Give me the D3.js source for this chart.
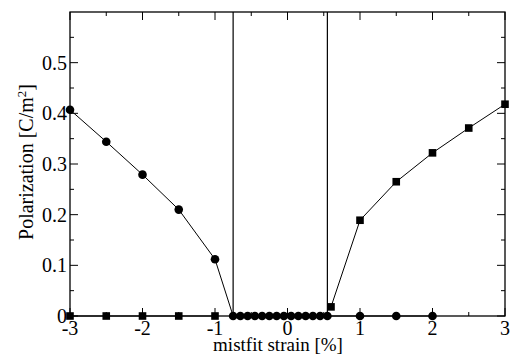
<!DOCTYPE html>
<html><head><meta charset="utf-8">
<script src="https://cdn.jsdelivr.net/npm/d3@7"></script>
<style>body{margin:0;background:#fff}svg{display:block}</style>
</head><body>
<svg id="c" width="515" height="358"></svg>
<script>
// circle series (polarization, C/m^2)
const circleX = [-3, -2.5, -2, -1.5, -1, -0.75, -0.65, -0.55, -0.45, -0.35, -0.25, -0.15, -0.05, 0.05, 0.15, 0.25, 0.35, 0.45, 0.55, 1, 1.5, 2];
const circleY = [0.407, 0.344, 0.279, 0.210, 0.112, 0, 0, 0, 0, 0, 0, 0, 0, 0, 0, 0, 0, 0, 0, 0, 0, 0];
// square series
const squareX = [-3, -2.5, -2, -1.5, -1, 0.6, 1, 1.5, 2, 2.5, 3];
const squareY = [0, 0, 0, 0, 0, 0.018, 0.189, 0.265, 0.322, 0.371, 0.418];
// phase boundaries
const boundaries = [-0.75, 0.55];
const xTicks = [-3, -2, -1, 0, 1, 2, 3];
const xMinor = [-2.5, -1.5, -0.5, 0.5, 1.5, 2.5];
const yTicks = [0, 0.1, 0.2, 0.3, 0.4, 0.5];
const yMinor = [0.05, 0.15, 0.25, 0.35, 0.45, 0.55];

const L = 70, R = 505, T = 12, B = 316;
const x = d3.scaleLinear().domain([-3, 3]).range([L, R]);
const y = d3.scaleLinear().domain([0, 0.6]).range([B, T]);
const svg = d3.select("#c");
const FF = "'Liberation Serif'";

// ticks (inward on all four sides)
const tg = svg.append("g").attr("stroke", "#000").attr("stroke-width", 1);
xTicks.forEach(v => {
  tg.append("line").attr("x1", x(v)).attr("x2", x(v)).attr("y1", B).attr("y2", B - 8);
  tg.append("line").attr("x1", x(v)).attr("x2", x(v)).attr("y1", T).attr("y2", T + 8);
});
xMinor.forEach(v => {
  tg.append("line").attr("x1", x(v)).attr("x2", x(v)).attr("y1", B).attr("y2", B - 4);
  tg.append("line").attr("x1", x(v)).attr("x2", x(v)).attr("y1", T).attr("y2", T + 4);
});
yTicks.forEach(v => {
  tg.append("line").attr("y1", y(v)).attr("y2", y(v)).attr("x1", L).attr("x2", L + 8);
  tg.append("line").attr("y1", y(v)).attr("y2", y(v)).attr("x1", R).attr("x2", R - 8);
});
yMinor.forEach(v => {
  tg.append("line").attr("y1", y(v)).attr("y2", y(v)).attr("x1", L).attr("x2", L + 4);
  tg.append("line").attr("y1", y(v)).attr("y2", y(v)).attr("x1", R).attr("x2", R - 4);
});

// frame
svg.append("rect").attr("x", L).attr("y", T).attr("width", R - L).attr("height", B - T)
  .attr("fill", "none").attr("stroke", "#000").attr("stroke-width", 1.3);

// boundaries
boundaries.forEach(v => {
  svg.append("line").attr("x1", x(v)).attr("x2", x(v)).attr("y1", T).attr("y2", B)
    .attr("stroke", "#000").attr("stroke-width", 1.2);
});

// tick labels
xTicks.forEach(v => {
  svg.append("text").attr("x", x(v)).attr("y", 334.5).attr("text-anchor", "middle")
    .style("font-family", FF).attr("font-size", 20).text(String(v));
});
yTicks.forEach(v => {
  svg.append("text").attr("x", 67).attr("y", y(v) + 7).attr("text-anchor", "end")
    .style("font-family", FF).attr("font-size", 20).text(v === 0 ? "0" : v.toFixed(1));
});

// axis titles
svg.append("text").attr("x", 278).attr("y", 351).attr("text-anchor", "middle")
  .style("font-family", FF).attr("font-size", 19).text("mistfit strain [%]");
const yt = svg.append("text").attr("transform", `translate(33,162) rotate(-90)`)
  .attr("text-anchor", "middle").style("font-family", FF).attr("font-size", 20);
yt.append("tspan").text("Polarization [C/m");
yt.append("tspan").attr("font-size", 13).attr("dy", -7).text("2");
yt.append("tspan").attr("dy", 7).text("]");

// lines
const line = d3.line().x(d => x(d[0])).y(d => y(d[1]));
const cData = circleX.map((v, i) => [v, circleY[i]]);
const sData = squareX.map((v, i) => [v, squareY[i]]);
svg.append("path").datum(cData).attr("d", line).attr("fill", "none").attr("stroke", "#000").attr("stroke-width", 1);
[sData.filter(d => d[0] < 0), sData.filter(d => d[0] > 0)].forEach(seg => {
  svg.append("path").datum(seg).attr("d", line).attr("fill", "none").attr("stroke", "#000").attr("stroke-width", 1);
});

// markers
svg.selectAll(".c").data(cData).enter().append("circle")
  .attr("cx", d => x(d[0])).attr("cy", d => y(d[1])).attr("r", 4.3).attr("fill", "#000");
svg.selectAll(".s").data(sData).enter().append("rect")
  .attr("x", d => x(d[0]) - 3.8).attr("y", d => y(d[1]) - 3.8).attr("width", 7.6).attr("height", 7.6).attr("fill", "#000");
</script>
</body></html>
